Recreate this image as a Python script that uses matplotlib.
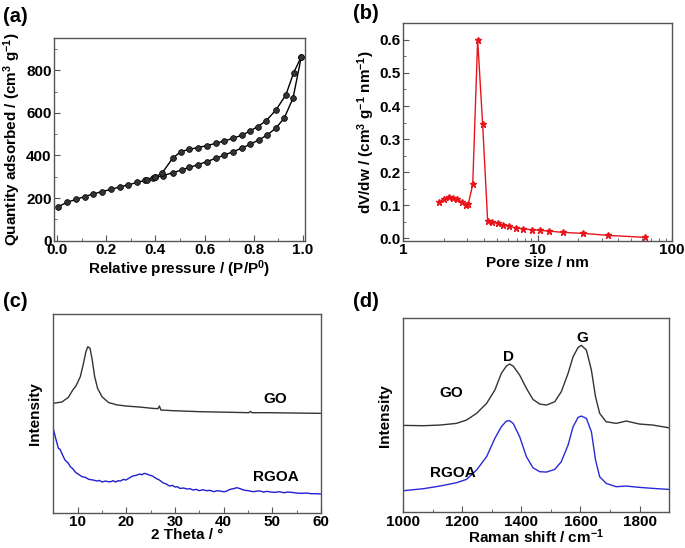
import numpy as np
import matplotlib.pyplot as plt
from matplotlib.ticker import MultipleLocator, NullFormatter

plt.rcParams['font.family'] = ['Liberation Sans', 'DejaVu Sans']
plt.rcParams['font.weight'] = 'bold'
plt.rcParams['axes.labelweight'] = 'bold'
plt.rcParams['mathtext.fontset'] = 'custom'
plt.rcParams['mathtext.rm'] = 'Liberation Sans:bold'
plt.rcParams['mathtext.bf'] = 'Liberation Sans:bold'
plt.rcParams['mathtext.it'] = 'Liberation Sans:bold'
plt.rcParams['mathtext.default'] = 'bf'

# (a) N2 isotherm
p_ads = [0.003, 0.04, 0.078, 0.112, 0.146, 0.182, 0.22, 0.254, 0.29, 0.327, 0.357, 0.367,
         0.39, 0.40, 0.43, 0.47, 0.507, 0.538, 0.574, 0.608, 0.646, 0.68, 0.716, 0.75,
         0.784, 0.82, 0.854, 0.889, 0.923, 0.959, 0.993]
q_ads = [158, 180, 194, 207, 219, 230, 241, 252, 262, 274, 283, 287,
         296, 298, 305, 319, 332, 344, 357, 371, 387, 402, 418, 434,
         452, 473, 496, 528, 575, 668, 864]
p_des = [0.993, 0.962, 0.93, 0.89, 0.851, 0.815, 0.784, 0.753, 0.716, 0.68, 0.646,
         0.608, 0.572, 0.538, 0.503, 0.47, 0.426, 0.40]
q_des = [864, 789, 684, 614, 564, 535, 515, 496, 481, 468, 457,
         446, 437, 429, 418, 387, 316, 300]

# (b) pore size distribution
pore = [1.845, 2.01, 2.18, 2.36, 2.53, 2.75, 2.91, 3.05, 3.29, 3.58, 3.90, 4.25, 4.61,
        5.05, 5.56, 6.17, 6.87, 7.8, 9.05, 10.4, 12.25, 15.4, 22.0, 33.7, 63.3]
dvdw = [0.109, 0.120, 0.126, 0.122, 0.118, 0.109, 0.100, 0.104, 0.163, 0.600, 0.345,
        0.053, 0.049, 0.045, 0.040, 0.036, 0.032, 0.029, 0.026, 0.024, 0.022, 0.018,
        0.015, 0.009, 0.003]

# (c) XRD
tt_go = [4.9, 6.75, 8.1, 9.0, 9.65, 10.55, 11.2, 11.7, 12.1, 12.55, 13.0, 13.5, 14.1,
         15.0, 16.4, 17.5, 17.8, 19.9, 22.7, 25.4, 26.5, 26.8, 27.1, 29.6, 35.1, 42.0, 45.2,
         45.5, 45.8, 48.9, 60.0]
i_go = [328, 332, 346, 368, 380, 408, 448, 483, 498, 493, 458, 408, 373,
        348, 330, 326, 324, 320, 317, 313, 312, 320, 308, 306, 303, 301, 300,
        304, 300, 300, 298]
tt_rg = [4.9, 5.4, 6.05, 6.4, 6.75, 7.4, 8.0, 8.5, 9.0, 9.3, 9.65, 10.3, 10.9, 11.6, 12.3,
         13.2, 14.0, 14.5, 15.0, 15.7, 16.3, 16.8, 17.3, 17.8, 18.3, 18.8, 19.4, 19.9,
         20.5, 21.3, 22.0, 22.7, 23.2, 23.7, 24.2, 24.7, 25.4, 26.1, 26.8, 27.5, 28.2,
         28.9, 29.5, 30.0, 30.5, 31.0, 31.8, 32.5, 33.1, 33.7, 34.4, 35.0, 35.7, 36.5,
         37.2, 38.0, 38.6, 39.25, 40.0, 40.5, 41.3, 42.0, 42.7, 43.4, 44.1, 45.0, 46.2,
         46.8, 47.5, 48.2, 48.9, 49.7, 50.5, 51.4, 52.4, 53.2, 54.0, 55.0, 55.8, 57.0,
         58.0, 59.0, 60.0]
i_rg = [258, 228, 193, 190, 178, 158, 150, 138, 132, 126, 120, 114, 108, 106, 100,
        98, 95, 97, 92, 95, 93, 93, 96, 92, 96, 95, 100, 98,
        103, 110, 112, 116, 114, 118, 116, 113, 110, 103, 98, 90, 86,
        80, 82, 77, 78, 73, 74, 71, 72, 68, 70, 66, 69, 66,
        67, 63, 66, 65, 63, 64, 70, 72, 75, 72, 68, 66, 63,
        65, 65, 62, 64, 62, 61, 63, 60, 62, 61, 59, 58, 59,
        57, 57, 56]

# (d) Raman
rs = [1000, 1068, 1124, 1180, 1214, 1248, 1282, 1310, 1332, 1349, 1360, 1372, 1394,
      1417, 1439, 1462, 1485, 1513, 1535, 1558, 1575, 1592, 1603, 1620, 1637, 1651,
      1665, 1687, 1721, 1755, 1800, 1845, 1898]
r_go = [261, 260, 262, 267, 277, 297, 327, 367, 417, 439, 445, 439, 412,
        372, 339, 325, 322, 332, 362, 417, 467, 495, 501, 487, 427, 347,
        297, 272, 267, 274, 265, 262, 254]
r_rg = [65, 71, 79, 89, 99, 127, 167, 222, 257, 274, 275, 267, 227,
        167, 134, 122, 121, 129, 152, 202, 257, 285, 289, 282, 242, 157,
        107, 87, 77, 79, 75, 72, 69]

spine_c = '#555555'
fs = 11

fig = plt.figure(figsize=(6.85, 5.48), dpi=100)
ax_a = fig.add_axes([0.0793, 0.5608, 0.366, 0.3693])
ax_b = fig.add_axes([0.5888, 0.5608, 0.3918, 0.3967])
ax_c = fig.add_axes([0.0778, 0.0644, 0.3908, 0.362])
ax_d = fig.add_axes([0.5888, 0.0650, 0.3879, 0.354])

for ax in (ax_a, ax_b, ax_c, ax_d):
    for s in ax.spines.values():
        s.set_color(spine_c)
        s.set_linewidth(1.0)
    ax.tick_params(which='both', direction='in', color=spine_c, labelsize=fs,
                   top=False, right=False, pad=2)
    ax.tick_params(which='major', length=4)
    ax.tick_params(which='minor', length=2)

# (a)
ax_a.plot(p_ads, q_ads, '-o', color='black', lw=1, ms=4.2, mfc='#333333', mec='black', mew=0.5)
ax_a.plot(p_des, q_des, '-o', color='black', lw=1, ms=4.2, mfc='#333333', mec='black', mew=0.5)
ax_a.set_xlim(-0.011, 1.008)
ax_a.set_ylim(0, 950)
ax_a.xaxis.set_minor_locator(MultipleLocator(0.1))
ax_a.yaxis.set_major_locator(MultipleLocator(200))
ax_a.yaxis.set_minor_locator(MultipleLocator(100))
ax_a.set_xticks([0, 0.2, 0.4, 0.6, 0.8, 1.0])
ax_a.set_xticklabels(['0.0', '0.2', '0.4', '0.6', '0.8', '1.0'])
ax_a.set_xlabel('Relative pressure / (P/P$^{0}$)', fontsize=fs, labelpad=1)
ax_a.set_ylabel('Quantity adsorbed / (cm$^{3}$ g$^{-1}$)', fontsize=fs, labelpad=2)

# (b)
ax_b.plot(pore, dvdw, '-*', color='#e8141c', lw=1, ms=5)
ax_b.set_xscale('log')
ax_b.set_xlim(1, 100)
ax_b.set_ylim(-0.007, 0.65)
ax_b.set_xticks([1, 10, 100])
ax_b.set_xticklabels(['1', '10', '100'])
ax_b.xaxis.set_minor_formatter(NullFormatter())
ax_b.yaxis.set_minor_locator(MultipleLocator(0.05))
ax_b.set_yticks([0, 0.1, 0.2, 0.3, 0.4, 0.5, 0.6])
ax_b.set_yticklabels(['0.0', '0.1', '0.2', '0.3', '0.4', '0.5', '0.6'])
ax_b.set_xlabel('Pore size / nm', fontsize=fs, labelpad=-1)
ax_b.set_ylabel('dV/dw / (cm$^{3}$ g$^{-1}$ nm$^{-1}$)', fontsize=fs, labelpad=2)

# (c)
ax_c.plot(tt_go, i_go, color='#333333', lw=1)
ax_c.plot(tt_rg, i_rg, color='#1f1fd0', lw=1)
ax_c.set_xlim(5, 60)
ax_c.set_ylim(0, 595)
ax_c.xaxis.set_major_locator(MultipleLocator(10))
ax_c.xaxis.set_minor_locator(MultipleLocator(5))
ax_c.set_yticks([])
ax_c.text(50.7, 340, 'GO', fontsize=fs, ha='center', va='center')
ax_c.text(50.7, 108, 'RGOA', fontsize=fs, ha='center', va='center')
ax_c.set_xlabel('2 Theta / °', fontsize=fs, labelpad=-1)
ax_c.set_ylabel('Intensity', fontsize=fs, labelpad=8)

# (d)
ax_d.plot(rs, r_go, color='#333333', lw=1)
ax_d.plot(rs, r_rg, color='#2a2ad8', lw=1)
ax_d.set_xlim(1000, 1900)
ax_d.set_ylim(0, 582)
ax_d.xaxis.set_major_locator(MultipleLocator(200))
ax_d.xaxis.set_minor_locator(MultipleLocator(100))
ax_d.set_yticks([])
ax_d.text(1355, 467, 'D', fontsize=fs, ha='center', va='center')
ax_d.text(1606, 522, 'G', fontsize=fs, ha='center', va='center')
ax_d.text(1163, 357, 'GO', fontsize=fs, ha='center', va='center')
ax_d.text(1169, 117, 'RGOA', fontsize=fs, ha='center', va='center')
ax_d.set_xlabel('Raman shift / cm$^{-1}$', fontsize=fs, labelpad=-1)
ax_d.set_ylabel('Intensity', fontsize=fs, labelpad=8)

fig.text(0.005, 0.97, '(a)', fontsize=14.5, va='center', ha='left')
fig.text(0.515, 0.975, '(b)', fontsize=14.5, va='center', ha='left')
fig.text(0.005, 0.45, '(c)', fontsize=14.5, va='center', ha='left')
fig.text(0.515, 0.45, '(d)', fontsize=14.5, va='center', ha='left')

fig.savefig('out.png', dpi=100)
